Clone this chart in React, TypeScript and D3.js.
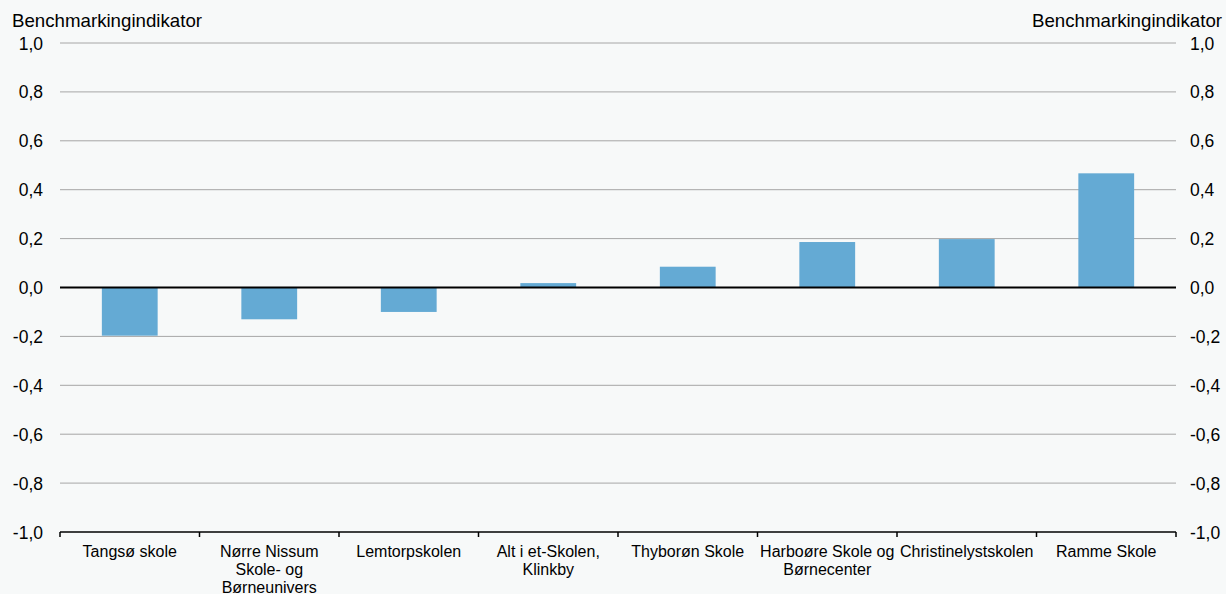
import React from "react";
import * as d3 from "d3";

const categories: string[][] = [
  ["Tangsø skole"],
  ["Nørre Nissum", "Skole- og", "Børneunivers"],
  ["Lemtorpskolen"],
  ["Alt i et-Skolen,", "Klinkby"],
  ["Thyborøn Skole"],
  ["Harboøre Skole og", "Børnecenter"],
  ["Christinelystskolen"],
  ["Ramme Skole"],
];
const values: number[] = [-0.197, -0.13, -0.1, 0.018, 0.085, 0.186, 0.198, 0.467];
const yTicks: number[] = [1.0, 0.8, 0.6, 0.4, 0.2, 0.0, -0.2, -0.4, -0.6, -0.8, -1.0];
const axisTitle = "Benchmarkingindikator";

const W = 1226;
const H = 594;
const left = 60;
const right = 1176;
const top = 43;
const bottom = 532;
const font = "'Liberation Sans', Arial, sans-serif";

export default function App() {
  const x = d3
    .scaleBand<number>()
    .domain(d3.range(categories.length))
    .range([left, right])
    .paddingInner(0.6)
    .paddingOuter(0.3);
  const step = (right - left) / categories.length;
  const y = d3.scaleLinear().domain([-1, 1]).range([bottom, top]);
  const fmt = (v: number) => d3.format(".1f")(v).replace(".", ",").replace("−", "-");

  return (
    <div style={{ position: "absolute", left: 0, top: 0 }}>
      <svg width={W} height={H} style={{ display: "block", background: "#f7f9f9" }}>
        <rect x={0} y={0} width={W} height={H} fill="#f7f9f9" />
        {yTicks
          .filter((t) => t !== 0 && t !== -1)
          .map((t) => (
            <line key={"g" + t} x1={left} x2={right} y1={y(t)} y2={y(t)} stroke="#a6a6a6" strokeWidth={1} />
          ))}
        {values.map((v, i) => (
          <rect
            key={"b" + i}
            x={x(i)}
            width={x.bandwidth()}
            y={y(Math.max(0, v))}
            height={Math.abs(y(v) - y(0))}
            fill="#64aad4"
          />
        ))}
        <line x1={left} x2={right} y1={y(0)} y2={y(0)} stroke="#000" strokeWidth={2} />
        <line x1={left} x2={right} y1={y(-1)} y2={y(-1)} stroke="#000" strokeWidth={1.5} />
        {d3.range(categories.length + 1).map((i) => (
          <line
            key={"t" + i}
            x1={left + i * step}
            x2={left + i * step}
            y1={y(-1)}
            y2={y(-1) + 5}
            stroke="#000"
            strokeWidth={1.5}
          />
        ))}
        {yTicks.map((t) => (
          <g key={"l" + t} fontFamily={font} fontSize={17.5} fill="#000">
            <text x={43} y={y(t) + 6.5} textAnchor="end">
              {fmt(t)}
            </text>
            <text x={1190} y={y(t) + 6.5} textAnchor="start">
              {fmt(t)}
            </text>
          </g>
        ))}
        <text x={12} y={27} fontFamily={font} fontSize={18.5} fill="#000" textLength={190} lengthAdjust="spacingAndGlyphs">
          {axisTitle}
        </text>
        <text x={1032} y={27} fontFamily={font} fontSize={18.5} fill="#000" textLength={190} lengthAdjust="spacingAndGlyphs">
          {axisTitle}
        </text>
        {categories.map((lines, i) => (
          <text
            key={"c" + i}
            x={left + (i + 0.5) * step}
            y={557}
            fontFamily={font}
            fontSize={16}
            fill="#000"
            textAnchor="middle"
          >
            {lines.map((ln, j) => (
              <tspan key={j} x={left + (i + 0.5) * step} dy={j === 0 ? 0 : 18}>
                {ln}
              </tspan>
            ))}
          </text>
        ))}
      </svg>
    </div>
  );
}
